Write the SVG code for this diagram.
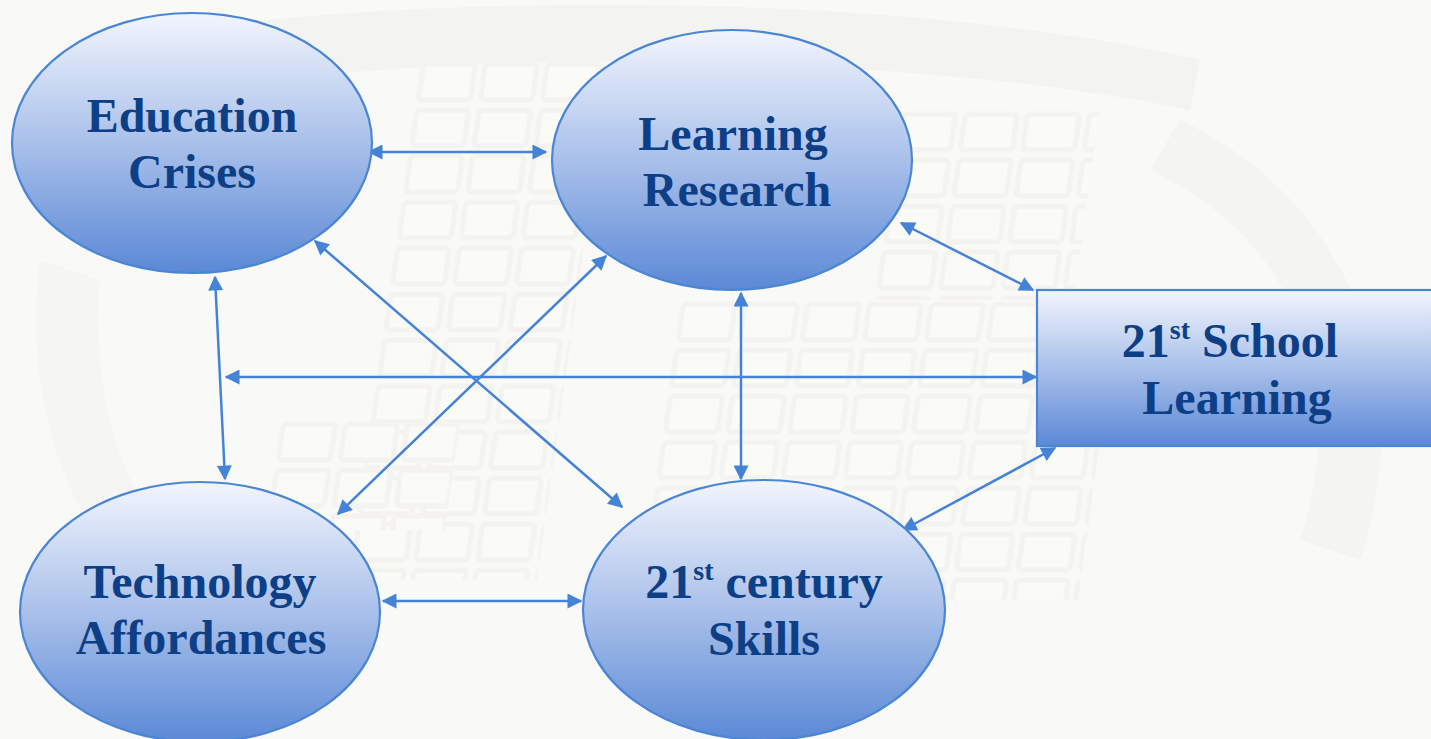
<svg xmlns="http://www.w3.org/2000/svg" width="1431" height="739" viewBox="0 0 1431 739">
  <defs>
    <linearGradient id="nodeFill" x1="0" y1="0" x2="0" y2="1">
      <stop offset="0" stop-color="#f2f5fd"/>
      <stop offset="0.5" stop-color="#a9c0ea"/>
      <stop offset="1" stop-color="#5b89d6"/>
    </linearGradient>
    <marker id="arrow" viewBox="0 0 10 10" refX="9" refY="5" markerWidth="6.5" markerHeight="6" markerUnits="strokeWidth" orient="auto-start-reverse">
      <path d="M0,0 L10,5 L0,10 z" fill="#4483d6"/>
    </marker>
    <pattern id="keys" x="0" y="0" width="62" height="46" patternUnits="userSpaceOnUse">
      <rect x="4" y="4" width="52" height="36" rx="4" fill="#fcfbf6" stroke="#f1efe8" stroke-width="5"/>
    </pattern>
  </defs>
  <style>
    .node { fill: url(#nodeFill); stroke: #4a86d4; stroke-width: 2.2; }
    .label { font-family: "Liberation Serif", "Times New Roman", serif; font-weight: bold; font-size: 48px; fill: #0d3f86; text-anchor: middle; }
    .sup { font-size: 28px; }
    .link { stroke: #4483d6; stroke-width: 2.5; fill: none; marker-start: url(#arrow); marker-end: url(#arrow); }
  </style>

  <!-- faint backdrop -->
  <rect x="0" y="0" width="1431" height="739" fill="#f9f9f8"/>
  <g opacity="0.55">
    <path d="M120,40 C400,-10 900,-10 1200,60 L1190,110 C900,50 420,45 140,100 Z" fill="#efefed"/>
    <path d="M1180,120 C1350,200 1420,380 1360,560 L1300,540 C1350,390 1300,240 1150,170 Z" fill="#f0f0ee"/>
    <path d="M40,260 C20,420 80,560 200,650 L240,610 C130,530 90,420 100,280 Z" fill="#f2f2f0"/>
    <g transform="translate(420,60) skewX(-8)">
      <rect x="0" y="0" width="190" height="520" fill="url(#keys)"/>
    </g>
    <g transform="translate(680,300) skewX(-8)">
      <rect x="0" y="0" width="440" height="300" fill="url(#keys)"/>
    </g>
    <g transform="translate(900,110) skewX(-8)">
      <rect x="0" y="0" width="200" height="190" fill="url(#keys)"/>
    </g>
    <g transform="translate(280,420) skewX(-8)">
      <rect x="0" y="0" width="180" height="110" fill="url(#keys)"/>
    </g>
  </g>

  <!-- connectors -->
  <g id="connectors">
    <line class="link" x1="369" y1="152" x2="546" y2="152"/>
    <line class="link" x1="215" y1="277" x2="225" y2="479"/>
    <line class="link" x1="315" y1="241" x2="622" y2="507"/>
    <line class="link" x1="338" y1="514" x2="606" y2="256"/>
    <line class="link" x1="226" y1="377" x2="1036" y2="377"/>
    <line class="link" x1="741" y1="293" x2="741" y2="479"/>
    <line class="link" x1="901" y1="223" x2="1033" y2="290"/>
    <line class="link" x1="903" y1="530" x2="1055" y2="448"/>
    <line class="link" x1="383" y1="601" x2="581" y2="601"/>
  </g>

  <!-- nodes -->
  <g id="education-crises">
    <ellipse class="node" cx="192" cy="143" rx="180" ry="130"/>
    <text class="label" x="192" y="132">Education</text>
    <text class="label" x="192" y="188">Crises</text>
  </g>
  <g id="learning-research">
    <ellipse class="node" cx="732" cy="160" rx="180" ry="130"/>
    <text class="label" x="733" y="150">Learning</text>
    <text class="label" x="737" y="206">Research</text>
  </g>
  <g id="school-learning">
    <rect class="node" x="1037" y="290" width="400" height="156"/>
    <text class="label" x="1230" y="357">21<tspan class="sup" dy="-18">st</tspan><tspan dy="18"> School</tspan></text>
    <text class="label" x="1237" y="414">Learning</text>
  </g>
  <g id="technology-affordances">
    <ellipse class="node" cx="200" cy="612" rx="180" ry="130"/>
    <text class="label" x="200" y="598">Technology</text>
    <text class="label" x="201" y="654">Affordances</text>
  </g>
  <g id="century-skills">
    <ellipse class="node" cx="764" cy="610" rx="181" ry="130"/>
    <text class="label" x="764" y="598">21<tspan class="sup" dy="-18">st</tspan><tspan dy="18"> century</tspan></text>
    <text class="label" x="764" y="655">Skills</text>
  </g>
</svg>
